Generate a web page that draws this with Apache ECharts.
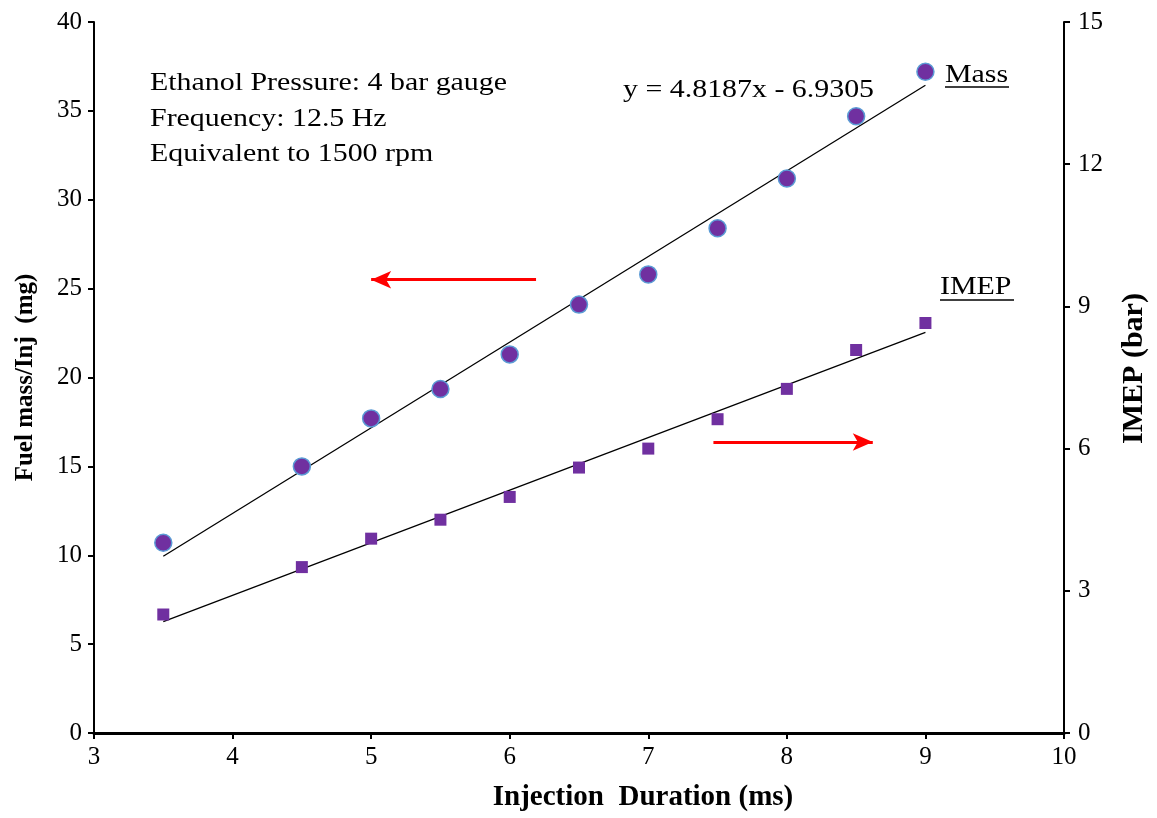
<!DOCTYPE html>
<html>
<head>
<meta charset="utf-8">
<script src="https://cdn.jsdelivr.net/npm/echarts@6/dist/echarts.min.js"></script>
<style>
  html, body { margin: 0; padding: 0; background: #fff; }
  #chart { width: 1157px; height: 818px; }
</style>
</head>
<body>
<div id="chart"></div>
<script>
// injection duration (ms)
const durations = [3.5, 4.5, 5, 5.5, 6, 6.5, 7, 7.5, 8, 8.5, 9]
// fuel mass per injection (mg), left axis
const massValues = [10.7, 15.0, 17.7, 19.35, 21.3, 24.1, 25.8, 28.4, 31.2, 34.7, 37.2]
// IMEP (bar), right axis
const imepValues = [2.5, 3.5, 4.1, 4.5, 4.98, 5.6, 6.0, 6.62, 7.26, 8.08, 8.65]
// trendline end points
const massFit = [[3.5, 9.94], [9, 36.44]]
const imepFit = [[3.5, 2.35], [9, 8.45]]

const serif = 'Liberation Serif, Times New Roman, serif'
const chart = echarts.init(document.getElementById('chart'))

const toPairs = (xs, ys) => xs.map((x, i) => [x, ys[i]])

// the reference text is a little wider than Times, stretch it a bit
function note(x, y, text, size) {
  return {
    type: 'text',
    x: x,
    y: y,
    scaleX: 1.15,
    style: { text: text, font: size + 'px ' + serif, fill: '#000', verticalAlign: 'middle', lineHeight: 35.5 }
  }
}

const option = {
  animation: false,
  backgroundColor: '#fff',
  grid: { left: 94, right: 91, top: 22, bottom: 85 },
  xAxis: {
    type: 'value',
    min: 3,
    max: 10,
    interval: 1,
    name: 'Injection  Duration (ms)',
    nameLocation: 'middle',
    nameGap: 50,
    nameTextStyle: { fontFamily: serif, fontSize: 29, fontWeight: 'bold', color: '#000', padding: [0, 0, 0, 128] },
    axisLine: { lineStyle: { color: '#000', width: 3 } },
    axisTick: { inside: false, length: 6, lineStyle: { color: '#000', width: 2 } },
    axisLabel: { fontFamily: serif, fontSize: 25, color: '#000', margin: 12 },
    splitLine: { show: false }
  },
  yAxis: [
    {
      type: 'value',
      min: 0,
      max: 40,
      interval: 5,
      position: 'left',
      name: 'Fuel mass/Inj  (mg)',
      nameLocation: 'middle',
      nameGap: 56,
      nameTextStyle: { fontFamily: serif, fontSize: 25, fontWeight: 'bold', color: '#000' },
      axisLine: { show: true, lineStyle: { color: '#000', width: 2 } },
      axisTick: { show: true, length: 6, lineStyle: { color: '#000', width: 2 } },
      axisLabel: { fontFamily: serif, fontSize: 25, color: '#000', margin: 12 },
      splitLine: { show: false }
    },
    {
      type: 'value',
      min: 0,
      max: 15,
      interval: 3,
      position: 'right',
      name: 'IMEP (bar)',
      nameLocation: 'middle',
      nameGap: 55,
      nameTextStyle: { fontFamily: serif, fontSize: 30, fontWeight: 'bold', color: '#000', padding: [0, 0, 0, 18] },
      axisLine: { show: true, lineStyle: { color: '#000', width: 2 } },
      axisTick: { show: true, length: 6, lineStyle: { color: '#000', width: 2 } },
      axisLabel: { fontFamily: serif, fontSize: 25, color: '#000', margin: 14 },
      splitLine: { show: false }
    }
  ],
  series: [
    {
      name: 'Mass fit',
      type: 'line',
      yAxisIndex: 0,
      data: massFit,
      showSymbol: false,
      silent: true,
      lineStyle: { color: '#000', width: 1.3 },
      markLine: {
        silent: true,
        symbol: ['none', 'arrow'],
        symbolSize: [13, 20],
        label: { show: false },
        lineStyle: { color: '#ff0000', width: 3, type: 'solid' },
        data: [[{ coord: [6.19, 25.5] }, { coord: [5.0, 25.5] }]]
      }
    },
    {
      name: 'IMEP fit',
      type: 'line',
      yAxisIndex: 1,
      data: imepFit,
      showSymbol: false,
      silent: true,
      lineStyle: { color: '#000', width: 1.3 },
      markLine: {
        silent: true,
        symbol: ['none', 'arrow'],
        symbolSize: [13, 20],
        label: { show: false },
        lineStyle: { color: '#ff0000', width: 3, type: 'solid' },
        data: [[{ coord: [7.47, 6.14] }, { coord: [8.62, 6.14] }]]
      }
    },
    {
      name: 'Mass',
      type: 'scatter',
      yAxisIndex: 0,
      data: toPairs(durations, massValues),
      symbol: 'circle',
      symbolSize: 17,
      itemStyle: { color: '#7030a0', borderColor: '#5b9bd5', borderWidth: 1.5, opacity: 1 },
      z: 5
    },
    {
      name: 'IMEP',
      type: 'scatter',
      yAxisIndex: 1,
      data: toPairs(durations, imepValues),
      symbol: 'rect',
      symbolSize: 12,
      itemStyle: { color: '#7030a0', opacity: 1 },
      z: 5
    }
  ],
  graphic: [
    note(150, 119, 'Ethanol Pressure: 4 bar gauge\nFrequency: 12.5 Hz\nEquivalent to 1500 rpm', 26),
    note(623, 90, 'y = 4.8187x - 6.9305', 26),
    note(945, 75, 'Mass', 26),
    {
      type: 'line',
      shape: { x1: 945, y1: 87, x2: 1009, y2: 87 },
      style: { stroke: '#000', lineWidth: 1.5 }
    },
    note(940, 287, 'IMEP', 26),
    {
      type: 'line',
      shape: { x1: 940, y1: 300, x2: 1014, y2: 300 },
      style: { stroke: '#000', lineWidth: 1.5 }
    }
  ]
}

chart.setOption(option)
</script>
</body>
</html>
